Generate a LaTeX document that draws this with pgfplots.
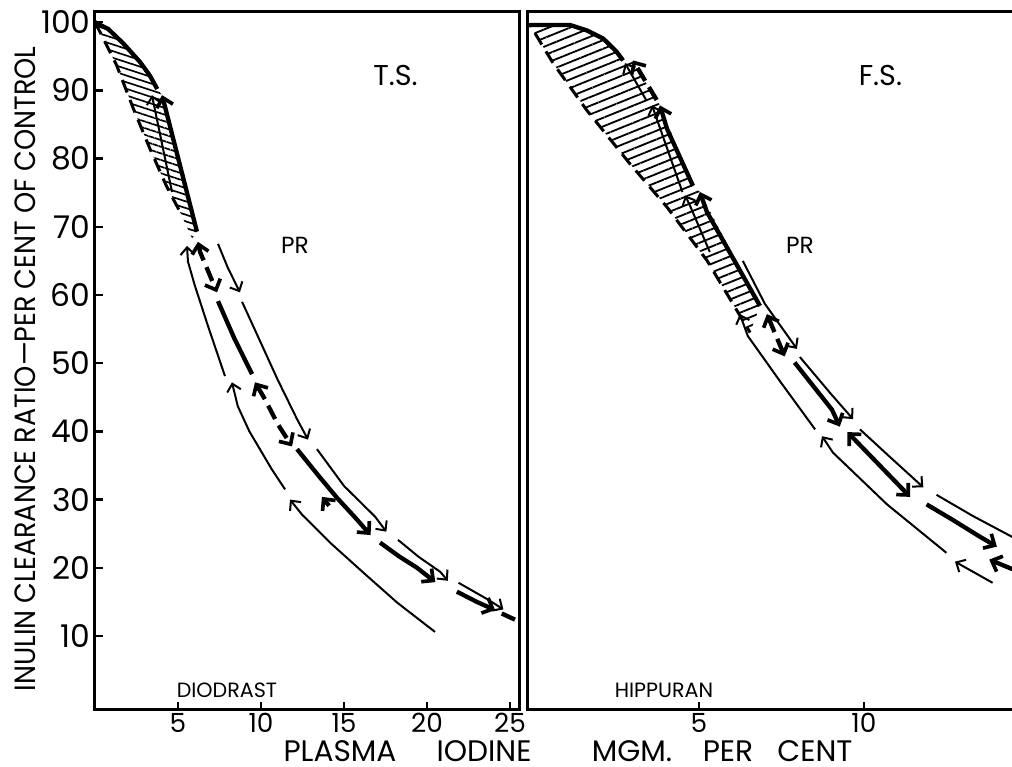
\documentclass[border=0pt]{standalone}
\usepackage{fontspec}
\setmainfont{Poppins}
\newfontfamily\narrow[FakeStretch=0.92]{Poppins}
\usepackage{pgfplots}
\pgfplotsset{compat=1.18}
\usetikzlibrary{arrows.meta,patterns.meta}

% 1 px of the reference = 0.3pt
\pgfplotsset{
  thinl/.style={line width=0.6pt},
  heavy/.style={line width=1.3pt},
  hd/.style={line width=1.3pt, dash pattern=on 4.5pt off 2.2pt},
  bnd/.style={line width=0.9pt, dash pattern=on 4pt off 2.4pt},
  ta/.style={-{Straight Barb[length=2.2pt,width=4.2pt,line width=0.6pt]}},
  ha/.style={-{Straight Barb[length=2.6pt,width=5pt,line width=1.1pt]}},
  hab/.style={{Straight Barb[length=2.6pt,width=5pt,line width=1.1pt]}-{Straight Barb[length=2.6pt,width=5pt,line width=1.1pt]}},
  panel/.style={
    scale only axis, height=209.4pt,
    ymin=-0.85, ymax=101.5,
    tick align=inside, major tick length=2.4pt,
    axis line style={line width=0.9pt},
    tick style={line width=0.7pt, black},
    xtick pos=bottom, ytick pos=left,
    /pgf/number format/assume math mode=true,
    yticklabel style={font=\fontsize{9.4}{10}\selectfont, xshift=2.2pt},
    xticklabel style={font=\fontsize{7.9}{9}\selectfont, yshift=2.6pt},
    clip mode=individual,
  },
}

\begin{document}
\begin{tikzpicture}
%%%%%%%%%%%%%%%% left panel: Diodrast
\begin{axis}[panel, at={(0,0)}, width=127.5pt,
  xmin=0, xmax=25.6, xtick={5,10,15,20,25},
  ytick={10,20,...,100}]
\addplot[draw=none, pattern={Lines[angle=-18,distance=1.9pt,line width=0.5pt]}] coordinates {
(0,100)(0.8,99)(1.7,96.9)(2.7,94.2)(3.3,92.2)(3.75,90.2)(4.04,89.3)(5.1,79.2)(6.14,69.3)
(5.85,68.3)(5.12,72.2)(4.3,76)(3.3,81.5)(2.3,87.4)(1.3,93.7)(0.5,97.6)} -- cycle;
\addplot[heavy] coordinates {(0,100)(0.8,99)(1.7,96.9)(2.7,94.2)(3.3,92.2)(3.75,90.2)};
\addplot[heavy, ha] coordinates {(6.14,69.3)(4.04,89.3)};
\addplot[thinl, ta] coordinates {(4.64,75.1)(3.43,89.3)};
\addplot[bnd] coordinates {(0,100)(0.5,97.6)(1.3,93.7)(2.3,87.4)(3.3,81.5)(4.3,76)(5.12,72.2)};
% lower thin curve
\addplot[thinl, ta] coordinates {(7.83,48.1)(6.8,55.5)(6.0,61.5)(5.6,64.9)(5.54,67.2)};
\addplot[thinl, ta] coordinates {(11.45,31.5)(10.66,34.4)(9.3,40)(8.6,43.7)(8.25,47.2)};
\addplot[thinl, ta] coordinates {(20.48,10.6)(18.2,14.9)(16.3,19.0)(14.2,23.6)(12.47,27.8)(11.75,30)};
% middle heavy curve
\addplot[hd, hab] coordinates {(6.2,67.8)(6.33,66.3)(7.35,60.4)};
\addplot[heavy] coordinates {(7.41,59.1)(8.4,53.6)(9.46,48.4)};
\addplot[hd, hab] coordinates {(9.64,47.2)(10.24,44.7)(11.0,41.1)(11.87,37.8)};
\addplot[heavy, ha] coordinates {(12.17,37.4)(13.5,33.4)(14.6,30.2)(15.66,27.4)(16.6,24.8)};
\addplot[heavy, ha] coordinates {(14.1,29.1)(13.67,30.4)};
\addplot[heavy, ha] coordinates {(17.17,23.7)(18.3,21.7)(19.4,20)(20.5,17.9)};
\addplot[heavy, ha] coordinates {(21.8,16.5)(23,15)(24.1,13.8)};
\addplot[heavy] coordinates {(24.5,13.3)(25.3,12.4)};
% upper thin curve
\addplot[thinl, ta] coordinates {(7.41,67.5)(8.0,64)(8.73,60.4)};
\addplot[thinl, ta] coordinates {(8.86,59)(9.8,54)(11,47.6)(12.17,41.8)(12.83,38.8)};
\addplot[thinl, ta] coordinates {(13.37,37.4)(15,32)(16.87,27.5)(17.55,25.3)};
\addplot[thinl, ta] coordinates {(18.25,24.1)(19.5,21.6)(20.8,19.4)(21.25,18.1)};
\addplot[thinl, ta] coordinates {(21.9,17.8)(23.7,15.3)(24.6,13.9)};
\node[font=\fontsize{8.6}{9}\selectfont] at (axis cs:18.1,92.2) {T.S.};
\node[font=\fontsize{7}{8}\selectfont] at (axis cs:12.05,67.3) {PR};
\node[font=\fontsize{6.2}{7}\selectfont] at (axis cs:7.95,2.05) {DIODRAST};
\end{axis}
%%%%%%%%%%%%%%%% right panel: Hippuran (its right edge lies past the picture)
\begin{axis}[panel, at={(129.9pt,0)}, width=147.6pt,
  xmin=-0.18, xmax=14.73, xtick={5,10}, ytick=\empty]
\addplot[draw=none, pattern={Lines[angle=22,distance=2.4pt,line width=0.55pt]}] coordinates {
(-0.18,99.6)(1.09,99.6)(1.6,98.8)(2.1,97.6)(2.5,95.7)(2.7,94.4)(3.0,94.2)(3.82,87.8)(4.82,76)
(5.03,75.1)(6.85,58.4)(6.55,54.5)(5.24,65.1)(4.03,72.9)(2.9,79.3)(1.6,87.1)(0.58,94)(0.03,98.4)} -- cycle;
\addplot[heavy] coordinates {(-0.18,99.6)(1.09,99.6)(1.6,98.8)(2.1,97.6)(2.5,95.7)(2.7,94.4)};
\addplot[hd, ha] coordinates {(3.72,88.6)(3.0,94.4)};
\addplot[heavy, ha] coordinates {(4.82,76)(4.03,84.4)(3.82,87.8)};
\addplot[heavy, ha] coordinates {(6.85,58.4)(5.24,72.2)(5.03,75.1)};
\addplot[thinl, ta] coordinates {(3.4,88.6)(2.76,94)};
\addplot[thinl, ta] coordinates {(4.5,75.1)(3.58,87.8)};
\addplot[thinl, ta] coordinates {(5.33,66.3)(4.73,73.1)(4.58,74.6)};
\addplot[bnd] coordinates {(0.03,98.4)(0.58,94)(1.6,87.1)(2.9,79.3)(4.03,72.9)(5.24,65.1)(6.55,54.5)};
% lower thin curve
\addplot[thinl, ta] coordinates {(8.52,40.3)(7.45,47.4)(6.48,54)(6.24,57.2)};
\addplot[thinl, ta] coordinates {(12.5,22.2)(10.7,29.3)(9.06,36.9)(8.73,39.3)};
\addplot[thinl, ta] coordinates {(13.9,17.8)(12.76,20.9)};
% middle heavy curve
\addplot[hd, hab] coordinates {(7.06,57.2)(7.6,51)};
\addplot[heavy, ha] coordinates {(7.9,50.1)(9.03,43.2)(9.27,40.7)};
\addplot[heavy, hab] coordinates {(9.5,39.9)(10.1,36.9)(10.9,32.9)(11.4,30.4)};
\addplot[heavy, ha] coordinates {(11.9,29.3)(12.7,27)(13.5,24.6)(14.03,23.1)};
\addplot[heavy, ha] coordinates {(14.5,19.8)(13.8,21.2)};
% upper thin curve
\addplot[thinl, ta] coordinates {(6.33,65)(7.0,58.7)(7.97,52.1)};
\addplot[thinl, ta] coordinates {(8.06,50.9)(9.0,45.5)(9.67,41.8)};
\addplot[thinl, ta] coordinates {(9.88,40.3)(10.8,36.2)(11.8,31.8)};
\addplot[thinl] coordinates {(12.2,30.7)(13.3,27.6)(14.7,24)};
\node[font=\fontsize{8.6}{9}\selectfont] at (axis cs:10.5,92.2) {F.S.};
\node[font=\fontsize{7}{8}\selectfont] at (axis cs:8.06,67.3) {PR};
\node[font=\fontsize{6.2}{7}\selectfont] at (axis cs:3.94,2.05) {HIPPURAN};
\end{axis}
% axis titles
\node[rotate=90, inner sep=0pt, font=\narrow\fontsize{8.8}{9}\selectfont] at (-21pt,102.3pt)
  {INULIN CLEARANCE RATIO—PER CENT OF CONTROL};
\begin{scope}[every node/.style={inner sep=0pt, font=\fontsize{8.9}{10}\selectfont}]
\node at (73.5pt,-12.3pt) {PLASMA};
\node at (116.7pt,-12.3pt) {IODINE};
\node at (161.1pt,-12.3pt) {MGM.};
\node at (189.9pt,-12.3pt) {PER};
\node at (216pt,-12.3pt) {CENT};
\end{scope}
\pgfresetboundingbox
\path[use as bounding box] (-28.5pt,-17.1pt) rectangle (275.1pt,213pt);
\end{tikzpicture}
\end{document}
